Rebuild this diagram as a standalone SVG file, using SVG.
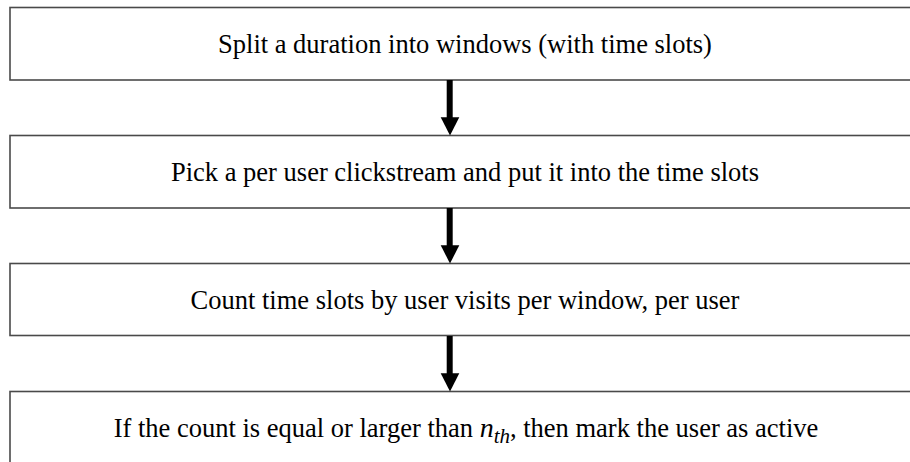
<svg xmlns="http://www.w3.org/2000/svg" width="910" height="462" viewBox="0 0 910 462">
<style>
.box{fill:#fff;stroke:#4a4a4a;stroke-width:1.6}
.t{font-family:"Liberation Serif","Times New Roman",serif;font-size:26.5px;fill:#000;text-anchor:middle}
.arr{stroke:#000;stroke-width:6}
.head{fill:#000}
</style>
<rect width="910" height="462" fill="#fff"/>
<g id="n1"><rect class="box" x="10" y="7.5" width="910" height="72.5"/><text class="t" x="465" y="52.5">Split a duration into windows (with time slots)</text></g>
<g id="n2"><rect class="box" x="10" y="135.5" width="910" height="72.5"/><text class="t" x="465" y="180.5">Pick a per user clickstream and put it into the time slots</text></g>
<g id="n3"><rect class="box" x="10" y="263.5" width="910" height="72"/><text class="t" x="465" y="308.5">Count time slots by user visits per window, per user</text></g>
<g id="n4"><rect class="box" x="10" y="391.5" width="910" height="80"/><text class="t" x="466" y="436.5">If the count is equal or larger than <tspan font-style="italic" font-size="28">n</tspan><tspan font-style="italic" font-size="21" dy="6">th</tspan><tspan dy="-6">, then mark the user as active</tspan></text></g>
<g id="connectors">
<line class="arr" x1="449.7" y1="80" x2="449.7" y2="118"/><polygon class="head" points="440.7,117.3 459.3,117.3 450,135.5"/>
<line class="arr" x1="449.7" y1="208" x2="449.7" y2="246"/><polygon class="head" points="440.7,245.3 459.3,245.3 450,263.5"/>
<line class="arr" x1="449.7" y1="336" x2="449.7" y2="374"/><polygon class="head" points="440.7,373.3 459.3,373.3 450,391.5"/>
</g>
</svg>
